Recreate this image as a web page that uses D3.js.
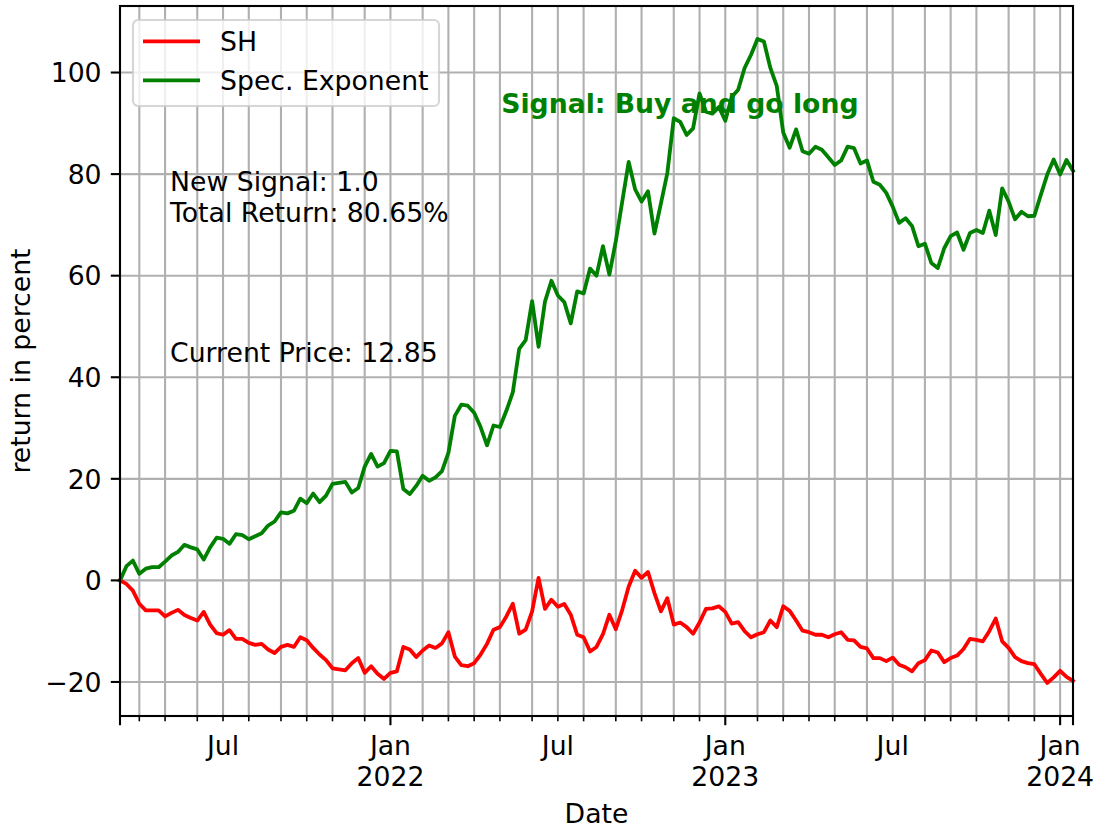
<!DOCTYPE html>
<html>
<head>
<meta charset="utf-8">
<script src="https://cdn.jsdelivr.net/npm/d3@7"></script>
<style>
  html, body { margin: 0; padding: 0; background: #fff; }
  svg text { font-family: "DejaVu Sans", sans-serif; }
</style>
</head>
<body>
<svg id="chart" width="1097" height="829"></svg>
<script>
// weekly closes, Mondays from 2021-03-15 to 2024-01-15
var startDay = new Date(2021, 2, 15),
	endDay = new Date(2024, 0, 16);

// cumulative return of the plain asset (percent)
var shReturn = [
	0, -0.7, -2.0, -4.6, -5.9, -5.9, -5.9, -7.1, -6.4, -5.8,
	-6.8, -7.4, -7.9, -6.2, -8.7, -10.4, -10.7, -9.8, -11.5, -11.5,
	-12.3, -12.7, -12.5, -13.6, -14.3, -13.1, -12.7, -13.1, -11.2, -11.8,
	-13.3, -14.6, -15.7, -17.3, -17.5, -17.7, -16.3, -15.3, -18.2, -16.9,
	-18.4, -19.4, -18.2, -17.9, -13.1, -13.6, -15.1, -13.8, -12.8, -13.3,
	-12.4, -10.2, -15.0, -16.7, -16.9, -16.3, -14.6, -12.5, -9.7, -9.2,
	-7.1, -4.6, -10.5, -9.7, -6.1, 0.5, -5.6, -3.8, -5.2, -4.65,
	-6.75, -10.7, -11.2, -14.0, -13.1, -10.6, -6.75, -9.6, -5.8, -1.2,
	1.9, 0.5, 1.65, -2.5, -6.1, -3.5, -8.7, -8.3, -9.2, -10.5,
	-8.3, -5.6, -5.5, -5.1, -6.2, -8.5, -8.2, -10.0, -11.2, -10.6,
	-10.2, -7.9, -9.2, -5.1, -6.0, -7.9, -9.9, -10.2, -10.7, -10.7,
	-11.2, -10.6, -10.2, -11.7, -11.8, -13.1, -13.4, -15.3, -15.3, -15.9,
	-15.2, -16.6, -17.1, -17.9, -16.3, -15.7, -13.8, -14.2, -16.1, -15.3,
	-14.8, -13.5, -11.5, -11.7, -12.0, -10.0, -7.5, -12.0, -13.3, -15.1,
	-15.9, -16.3, -16.5, -18.4, -20.2, -19.1, -17.8, -19.0, -19.8
];

// cumulative return of the spectral exponent strategy (percent)
var specReturn = [
	0, 2.8, 3.9, 1.3, 2.3, 2.6, 2.6, 3.7, 4.9, 5.6,
	7.0, 6.5, 6.1, 4.1, 6.5, 8.4, 8.2, 7.2, 9.1, 8.9,
	8.1, 8.7, 9.3, 10.8, 11.6, 13.4, 13.2, 13.7, 16.1, 15.2,
	17.1, 15.4, 16.7, 19.0, 19.2, 19.4, 17.3, 18.2, 22.4, 24.9,
	22.4, 23.1, 25.5, 25.4, 18.0, 17.0, 18.6, 20.6, 19.6, 20.3,
	21.5, 25.1, 32.4, 34.6, 34.4, 33.0, 30.2, 26.6, 30.5, 30.2,
	33.4, 37.0, 45.6, 47.3, 55.0, 46.0, 54.9, 59.0, 56.1, 54.8,
	50.6, 56.9, 56.5, 61.4, 60.0, 65.8, 60.2, 66.8, 74.6, 82.4,
	77.0, 74.6, 76.6, 68.3, 74.2, 80.2, 91.0, 90.3, 87.7, 89.0,
	95.9, 92.3, 91.9, 93.2, 90.5, 95.2, 96.6, 100.9, 103.5, 106.6,
	106.1, 100.9, 97.3, 88.2, 85.2, 88.8, 84.5, 84.0, 85.4, 84.8,
	83.3, 81.8, 82.7, 85.4, 85.1, 82.1, 82.7, 78.5, 77.9, 76.3,
	73.6, 70.4, 71.3, 69.8, 65.8, 66.3, 62.5, 61.5, 65.4, 67.8,
	68.5, 65.1, 68.4, 69.0, 68.4, 72.8, 68.0, 77.2, 74.6, 71.1,
	72.6, 71.7, 71.8, 75.9, 79.9, 82.9, 79.9, 82.8, 80.65
];

var seriesNames = ["SH", "Spec. Exponent"],
	seriesColors = ["#ff0000", "#008000"];

var yTicks = [-20, 0, 20, 40, 60, 80, 100],
	yDomain = [-26.7, 113.1];

var infoLines = ["New Signal: 1.0", "Total Return: 80.65%"],
	priceLine = "Current Price: 12.85",
	signalText = "Signal: Buy and go long";

/*** layout ***/
var width = 1097, height = 829,
	margin = {top: 6, right: 24, bottom: 113, left: 120},
	plotW = width - margin.left - margin.right,
	plotH = height - margin.top - margin.bottom;

var fontSize = 26.7,
	lineW = 3.8,
	frameW = 2.1,
	majorLen = 9.2,
	minorLen = 5.3,
	tickPad = 9.2;

var dates = d3.timeMonday.range(startDay, endDay);

var x = d3.scaleTime()
	.domain([dates[0], dates[dates.length - 1]])
	.range([0, plotW]);

var y = d3.scaleLinear()
	.domain(yDomain)
	.range([plotH, 0]);

// one tick per month, on the first weekly bar of that month
var monthTicks = d3.timeMonth.range(d3.timeMonth.ceil(dates[0]), dates[dates.length - 1])
	.map(function(m){
		return dates[d3.bisectLeft(dates, m)];
	});
var endTicks = [dates[0], dates[dates.length - 1]];

var svg = d3.select("#chart");
var g = svg.append("g")
	.attr("transform", "translate(" + margin.left + "," + margin.top + ")");

// grid
g.selectAll(".vgrid").data(monthTicks).enter()
	.append("line")
	.attr("class", "vgrid")
	.attr("x1", function(d){ return x(d); })
	.attr("x2", function(d){ return x(d); })
	.attr("y1", 0)
	.attr("y2", plotH)
	.attr("stroke", "#b0b0b0")
	.attr("stroke-width", frameW);

g.selectAll(".hgrid").data(yTicks).enter()
	.append("line")
	.attr("class", "hgrid")
	.attr("x1", 0)
	.attr("x2", plotW)
	.attr("y1", function(d){ return y(d); })
	.attr("y2", function(d){ return y(d); })
	.attr("stroke", "#b0b0b0")
	.attr("stroke-width", frameW);

// series lines
var line = d3.line()
	.x(function(d, i){ return x(dates[i]); })
	.y(function(d){ return y(d); });

[shReturn, specReturn].forEach(function(vals, i){
	g.append("path")
		.datum(vals)
		.attr("d", line)
		.attr("fill", "none")
		.attr("stroke", seriesColors[i])
		.attr("stroke-width", lineW)
		.attr("stroke-linejoin", "round")
		.attr("stroke-linecap", "square");
});

// text annotations (axes fractions)
g.append("text")
	.attr("x", 0.0525 * plotW)
	.attr("y", 0.260 * plotH)
	.attr("font-size", fontSize + "px")
	.attr("fill", "#000")
	.selectAll("tspan").data(infoLines).enter()
	.append("tspan")
	.attr("x", 0.0525 * plotW)
	.attr("dy", function(d, i){ return i == 0 ? 0 : 31.5; })
	.text(function(d){ return d; });

g.append("text")
	.attr("x", 0.0525 * plotW)
	.attr("y", 0.501 * plotH)
	.attr("font-size", fontSize + "px")
	.attr("fill", "#000")
	.text(priceLine);

g.append("text")
	.attr("x", 0.400 * plotW)
	.attr("y", 0.150 * plotH)
	.attr("font-size", fontSize + "px")
	.attr("font-weight", "bold")
	.attr("fill", seriesColors[1])
	.text(signalText);

// legend
var legend = g.append("g").attr("transform", "translate(13,14)");
legend.append("rect")
	.attr("width", 306)
	.attr("height", 86)
	.attr("rx", 5)
	.attr("fill", "#fff")
	.attr("fill-opacity", 0.8)
	.attr("stroke", "#cccccc")
	.attr("stroke-opacity", 0.8)
	.attr("stroke-width", frameW);

seriesNames.forEach(function(name, i){
	var ly = 21.3 + i * 39;
	legend.append("line")
		.attr("x1", 10).attr("x2", 67)
		.attr("y1", ly).attr("y2", ly)
		.attr("stroke", seriesColors[i])
		.attr("stroke-width", lineW);
	legend.append("text")
		.attr("x", 87)
		.attr("y", ly + 9.4)
		.attr("font-size", fontSize + "px")
		.attr("fill", "#000")
		.text(name);
});

// spines
g.append("rect")
	.attr("width", plotW)
	.attr("height", plotH)
	.attr("fill", "none")
	.attr("stroke", "#000")
	.attr("stroke-width", frameW);

// y axis ticks + labels
g.selectAll(".ytick").data(yTicks).enter()
	.append("line")
	.attr("class", "ytick")
	.attr("x1", -majorLen).attr("x2", 0)
	.attr("y1", function(d){ return y(d); })
	.attr("y2", function(d){ return y(d); })
	.attr("stroke", "#000")
	.attr("stroke-width", frameW);

g.selectAll(".ylabel").data(yTicks).enter()
	.append("text")
	.attr("class", "ylabel")
	.attr("x", -majorLen - tickPad)
	.attr("y", function(d){ return y(d) + fontSize * 0.365; })
	.attr("text-anchor", "end")
	.attr("font-size", fontSize + "px")
	.attr("fill", "#000")
	.text(function(d){ return d < 0 ? "\u2212" + Math.abs(d) : d; });

// x axis ticks: january (and the ends) are major
function isMajor(d){ return d.getMonth() == 0; }

g.selectAll(".xtick").data(monthTicks.concat(endTicks)).enter()
	.append("line")
	.attr("class", "xtick")
	.attr("x1", function(d){ return x(d); })
	.attr("x2", function(d){ return x(d); })
	.attr("y1", plotH)
	.attr("y2", function(d, i){
		var major = i >= monthTicks.length || isMajor(d);
		return plotH + (major ? majorLen : minorLen);
	})
	.attr("stroke", "#000")
	.attr("stroke-width", function(d, i){
		return (i >= monthTicks.length || isMajor(d)) ? frameW : 1.6;
	});

var labelled = monthTicks.filter(function(d){ return d.getMonth() == 0 || d.getMonth() == 6; });
var xl = g.selectAll(".xlabel").data(labelled).enter()
	.append("text")
	.attr("class", "xlabel")
	.attr("text-anchor", "middle")
	.attr("font-size", fontSize + "px")
	.attr("fill", "#000")
	.attr("transform", function(d){
		return "translate(" + x(d) + "," + (plotH + 38.5) + ")";
	});

xl.append("tspan")
	.attr("x", 0)
	.text(function(d){ return d3.timeFormat("%b")(d); });
xl.filter(isMajor).append("tspan")
	.attr("x", 0)
	.attr("dy", 31.4)
	.text(function(d){ return d.getFullYear(); });

// axis titles
g.append("text")
	.attr("x", plotW / 2)
	.attr("y", plotH + 106.5)
	.attr("text-anchor", "middle")
	.attr("font-size", fontSize + "px")
	.attr("fill", "#000")
	.text("Date");

g.append("text")
	.attr("transform", "translate(" + (-90) + "," + (plotH / 2) + ") rotate(-90)")
	.attr("text-anchor", "middle")
	.attr("font-size", fontSize + "px")
	.attr("fill", "#000")
	.text("return in percent");
</script>
</body>
</html>
